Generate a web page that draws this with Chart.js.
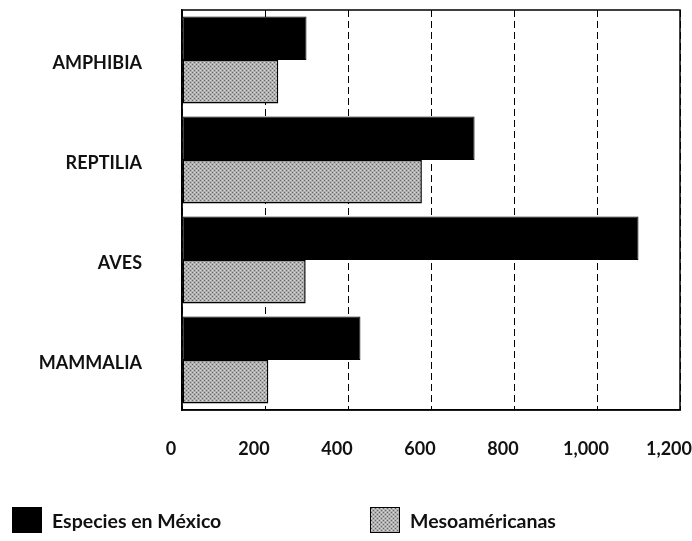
<!DOCTYPE html>
<html>
<head>
<meta charset="utf-8">
<script src="https://cdn.jsdelivr.net/npm/chart.js@4"></script>
<style>
  body { margin: 0; background: #fff; }
  #wrap { position: relative; width: 692px; height: 541px; }
  .ley { position: absolute; top: 507px; display: flex; align-items: center; font-family: Lato, sans-serif; font-weight: bold; font-size: 19.5px; color: #111; }
  .caja { width: 30px; height: 26px; margin-right: 10px; box-sizing: border-box; }
</style>
</head>
<body>
<div id="wrap">
  <canvas id="grafica" width="692" height="541"></canvas>
  <div class="ley" style="left:12px;"><div class="caja" style="background:#000;"></div>Especies en México</div>
  <div class="ley" style="left:370px;"><div class="caja" id="cajaGris" style="border:1.5px solid #000;"></div>Mesoaméricanas</div>
</div>
<script>
const clases = ["AMPHIBIA", "REPTILIA", "AVES", "MAMMALIA"];
const especiesMexico = [300, 705, 1100, 430];
const mesoamericanas = [232, 578, 298, 208];
const ticksX = [0, 200, 400, 600, 800, 1000, 1200];

// trama punteada para la serie gris
const trama = document.createElement("canvas");
trama.width = 4; trama.height = 4;
const tctx = trama.getContext("2d");
tctx.fillStyle = "#b0b0b0";
tctx.fillRect(0, 0, 4, 4);
tctx.fillStyle = "#666";
tctx.fillRect(0, 0, 1, 1);
tctx.fillRect(2, 2, 1, 1);
tctx.fillStyle = "#d8d8d8";
tctx.fillRect(2, 0, 1, 1);
tctx.fillRect(0, 2, 1, 1);
const patronGris = document.getElementById("grafica").getContext("2d").createPattern(trama, "repeat");
document.getElementById("cajaGris").style.background = "url(" + trama.toDataURL() + ")";

const marco = {
    id: "marco",
    afterDatasetsDraw(chart) {
        const { ctx, chartArea: a } = chart;
        ctx.save();
        ctx.strokeStyle = "#000";
        ctx.lineWidth = 1.5;
        ctx.strokeRect(a.left, a.top, a.right - a.left, a.bottom - a.top);
        ctx.restore();
    }
};

const fuente = { family: "Lato, sans-serif", size: 18, weight: "bold" };

const sinRelleno = (s) => {
    s.paddingLeft = 0; s.paddingRight = 0; s.paddingTop = 0; s.paddingBottom = 0;
};

new Chart(document.querySelector("#grafica"), {
    type: "bar",
    data: {
        labels: clases,
        datasets: [
            {
                label: "Especies en México",
                data: especiesMexico,
                backgroundColor: "#000",
                borderColor: "#000",
                borderWidth: 1,
                borderSkipped: false
            },
            {
                label: "Mesoaméricanas",
                data: mesoamericanas,
                backgroundColor: patronGris,
                borderColor: "#000",
                borderWidth: 1.5,
                borderSkipped: false
            }
        ]
    },
    options: {
        indexAxis: "y",
        responsive: false,
        animation: false,
        layout: { padding: { top: 10, right: 12, left: 0, bottom: 0 } },
        datasets: { bar: { categoryPercentage: 0.87, barPercentage: 1 } },
        plugins: { legend: { display: false }, tooltip: { enabled: false } },
        scales: {
            x: {
                min: 0,
                max: 1200,
                afterBuildTicks: (s) => { s.ticks = ticksX.map(v => ({ value: v })); },
                afterFit: (s) => { s.height = 131; sinRelleno(s); },
                ticks: {
                    color: "#111",
                    font: fuente,
                    padding: 28,
                    labelOffset: -11,
                    maxRotation: 0,
                    autoSkip: false,
                    callback: (v) => v.toLocaleString("en-US")
                },
                grid: { color: "#000", lineWidth: 1, drawTicks: false },
                border: { display: true, color: "#000", width: 1.5, dash: [7, 4] }
            },
            y: {
                afterFit: (s) => { s.width = 182; sinRelleno(s); },
                ticks: { color: "#111", font: fuente, padding: 40, labelOffset: 3 },
                grid: { display: false, drawTicks: false },
                border: { display: true, color: "#000", width: 1.5 }
            }
        }
    },
    plugins: [marco]
});
</script>
</body>
</html>
